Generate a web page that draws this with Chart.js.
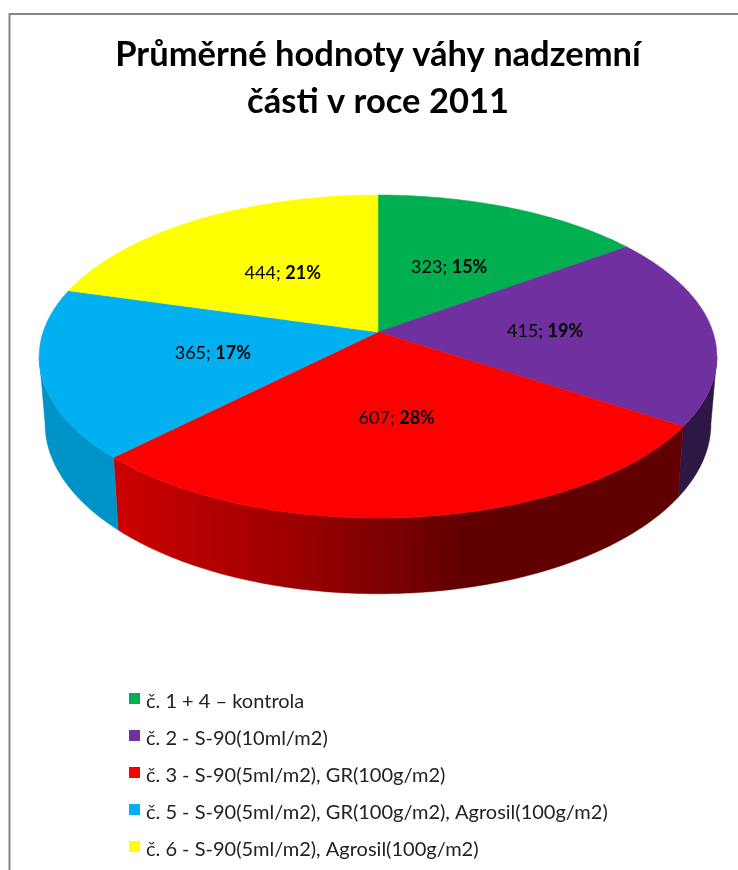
<!DOCTYPE html>
<html lang="cs">
<head>
<meta charset="utf-8">
<title>Průměrné hodnoty váhy nadzemní části v roce 2011</title>
<script src="https://cdn.jsdelivr.net/npm/chart.js@4/dist/chart.umd.min.js"></script>
<style>
  html, body { margin: 0; background: #fff; }
  canvas { display: block; }
</style>
</head>
<body>
<canvas id="chart" width="738" height="870"></canvas>
<script>
const titleLines = ['Průměrné hodnoty váhy nadzemní', 'části v roce 2011'];
const categories = [
    'č. 1 + 4 – kontrola',
    'č. 2 - S-90(10ml/m2)',
    'č. 3 - S-90(5ml/m2), GR(100g/m2)',
    'č. 5 - S-90(5ml/m2), GR(100g/m2), Agrosil(100g/m2)',
    'č. 6 - S-90(5ml/m2), Agrosil(100g/m2)'
];
const values = [323, 415, 607, 365, 444];
const topColors = ['#00b050', '#7030a0', '#ff0000', '#00b0f0', '#ffff00'];
const wallColors = ['#006a30', '#2c1745', '#990000', '#0093c8', '#999900'];

const FONT = 'Lato, Carlito, sans-serif';

// Tilted disc: unit circle -> screen, with perspective along the depth axis
const tilt = { a: 1.658, b: 0.781, p: 0.1517 };
const base = { a: 1.629, b: 0.822, p: 0.1517, drop: 66 };

function project(arc, angle, f, plane) {
    const X = Math.cos(angle) * f;
    const Y = Math.sin(angle) * f;
    const w = 1 - plane.p * Y;
    return {
        x: arc.x + arc.outerRadius * plane.a * X / w,
        y: arc.y + (plane.drop || 0) + arc.outerRadius * plane.b * Y / w
    };
}

function rim(ctx, arc, from, to, plane) {
    const steps = Math.max(2, Math.ceil(Math.abs(to - from) / 0.01));
    for (let i = 0; i <= steps; i++) {
        const p = project(arc, from + (to - from) * i / steps, 1, plane);
        ctx.lineTo(p.x, p.y);
    }
}

function wallFill(ctx, index) {
    if (index !== 2) return wallColors[index];
    // the long front wall darkens towards the right
    const g = ctx.createLinearGradient(119, 0, 680, 0);
    g.addColorStop(0, '#cc0000');
    g.addColorStop(0.33, '#990000');
    g.addColorStop(0.62, '#600000');
    g.addColorStop(1, '#600000');
    return g;
}

const disc3d = {
    id: 'disc3d',
    beforeDraw(chart) {
        // chart frame, only top and left edges fall inside the page
        const ctx = chart.ctx;
        ctx.save();
        ctx.strokeStyle = '#868686';
        ctx.lineWidth = 2;
        ctx.beginPath();
        ctx.moveTo(9.5, chart.height);
        ctx.lineTo(9.5, 14);
        ctx.lineTo(chart.width, 14);
        ctx.stroke();
        ctx.restore();
    },
    beforeDatasetDraw(chart) {
        const ctx = chart.ctx;
        const arcs = chart.getDatasetMeta(0).data;
        // visible part of the wall runs between these two angles
        const wallFrom = Math.asin(0.15);
        const wallTo = Math.PI - wallFrom;

        ctx.save();
        arcs.forEach((arc, i) => {
            const from = Math.max(arc.startAngle, wallFrom);
            const to = Math.min(arc.endAngle, wallTo);
            if (to <= from) return;
            const fill = wallFill(ctx, i);
            ctx.fillStyle = fill;
            ctx.strokeStyle = fill;
            ctx.lineWidth = 0.5;
            ctx.beginPath();
            rim(ctx, arc, from, to, tilt);
            rim(ctx, arc, to, from, base);
            ctx.closePath();
            ctx.fill();
            ctx.stroke();
        });
        arcs.forEach((arc, i) => {
            ctx.fillStyle = topColors[i];
            ctx.strokeStyle = topColors[i];
            ctx.lineWidth = 0.5;
            ctx.beginPath();
            ctx.moveTo(arc.x, arc.y);
            rim(ctx, arc, arc.startAngle, arc.endAngle, tilt);
            ctx.closePath();
            ctx.fill();
            ctx.stroke();
        });
        ctx.restore();
        return false;
    },
    afterDatasetsDraw(chart) {
        const ctx = chart.ctx;
        const arcs = chart.getDatasetMeta(0).data;
        const total = values.reduce((s, v) => s + v, 0);

        // value labels: "323; 15%" with the share in bold
        ctx.save();
        ctx.fillStyle = '#000';
        ctx.textBaseline = 'middle';
        ctx.textAlign = 'left';
        arcs.forEach((arc, i) => {
            const pos = project(arc, (arc.startAngle + arc.endAngle) / 2, 0.5, tilt);
            const plain = values[i] + '; ';
            const bold = Math.round(values[i] / total * 100) + '%';
            ctx.font = '18px ' + FONT;
            const w1 = ctx.measureText(plain).width;
            ctx.font = 'bold 18px ' + FONT;
            const w2 = ctx.measureText(bold).width;
            const left = pos.x - (w1 + w2) / 2;
            ctx.font = '18px ' + FONT;
            ctx.fillText(plain, left, pos.y + 1);
            ctx.font = 'bold 18px ' + FONT;
            ctx.fillText(bold, left + w1, pos.y + 1);
        });

        // legend column under the disc
        ctx.font = '20px ' + FONT;
        categories.forEach((label, i) => {
            const y = 701.5 + i * 37;
            ctx.fillStyle = topColors[i];
            ctx.fillRect(129, Math.round(y) - 9, 11, 11);
            ctx.fillStyle = '#222';
            ctx.fillText(label, 146, y);
        });
        ctx.restore();
    }
};

new Chart(document.getElementById('chart'), {
    type: 'pie',
    data: {
        labels: categories,
        datasets: [{ data: values, backgroundColor: topColors, borderWidth: 0 }]
    },
    plugins: [disc3d],
    options: {
        responsive: false,
        animation: false,
        layout: { padding: { left: 18, bottom: 336 } },
        plugins: {
            legend: { display: false },
            tooltip: { enabled: false },
            title: {
                display: true,
                text: titleLines,
                color: '#000',
                font: { family: FONT, size: 34.5, weight: 'bold', lineHeight: 47 / 34.5 },
                padding: { top: 31, bottom: 5 }
            }
        }
    }
});
</script>
</body>
</html>
